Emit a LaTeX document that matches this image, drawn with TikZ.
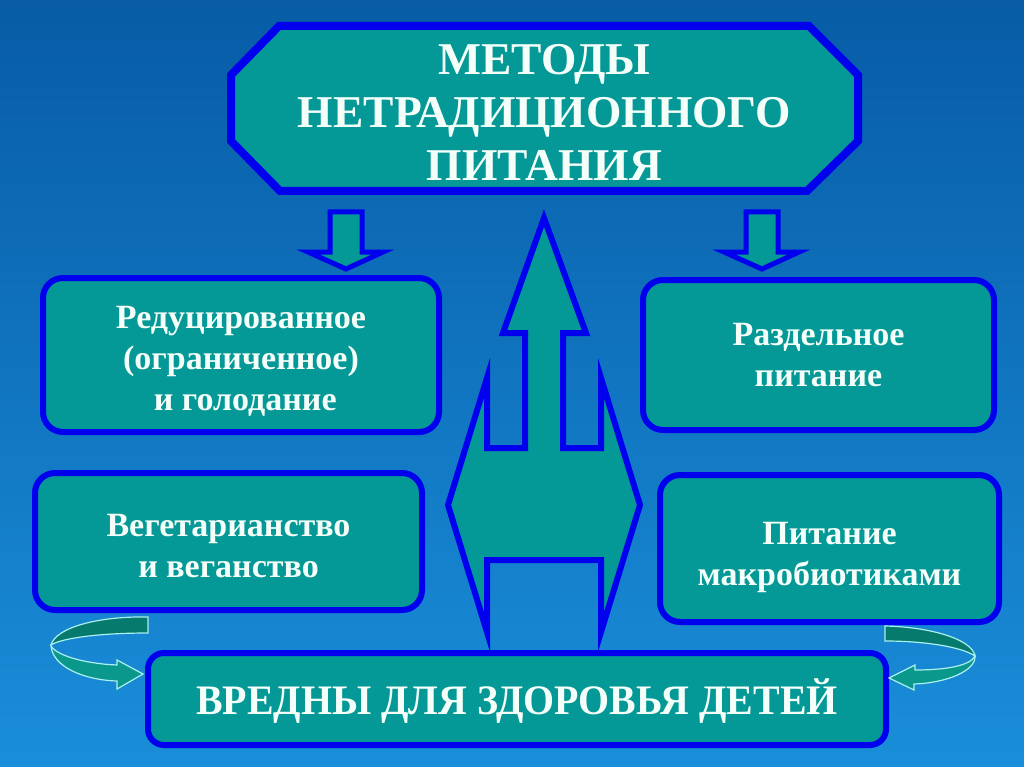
\documentclass[tikz,border=0pt]{standalone}
\usepackage{fontspec}
\setmainfont{Liberation Serif}
\newfontfamily\condserif[FakeStretch=0.95]{Liberation Serif}
\definecolor{bgtop}{RGB}{8,92,166}
\definecolor{bgbot}{RGB}{26,142,218}
\definecolor{tealfill}{RGB}{4,152,150}
\definecolor{edgeblue}{RGB}{0,0,238}
\definecolor{ribbondark}{RGB}{6,122,108}
\definecolor{ribbonlight}{RGB}{10,152,140}
\definecolor{ribbonedge}{RGB}{170,240,236}
\definecolor{txt}{RGB}{245,255,250}
\newcommand{\lowlines}[2]{\raisebox{#1}[\height][\depth]{\begin{tabular}{@{}c@{}}#2\end{tabular}}}
\tikzset{
  box/.style={draw=edgeblue, line width=6pt, fill=tealfill, rounded corners=20pt,
    text=txt, font=\bfseries\fontsize{34}{41}\selectfont, inner sep=0pt},
  blockarrow/.style={draw=edgeblue, fill=tealfill, line join=miter},
  ribbonback/.style={fill=ribbondark, draw=ribbonedge, line width=1.2pt},
  ribbonfront/.style={fill=ribbonlight, draw=ribbonedge, line width=1.2pt},
}
\begin{document}
\begin{tikzpicture}[x=1pt,y=-1pt]
\useasboundingbox (0,0) rectangle (1024,767);
\shade[top color=bgtop, bottom color=bgbot] (0,0) rectangle (1024,767);

% title octagon
\draw[blockarrow, line width=8pt] (279,26) -- (809,26) -- (858,75) -- (858,141)
  -- (807,191) -- (280,191) -- (231,141) -- (231,75) -- cycle;
\node[text=txt, align=center, font=\bfseries\fontsize{45.5}{53}\selectfont, inner sep=0pt]
  (title) at (544.5,112) {МЕТОДЫ\\НЕТРАДИЦИОННОГО\\ПИТАНИЯ};

% small down arrows
\draw[blockarrow, line width=5pt] (330,212) -- (362,212) -- (362,252) -- (383,252)
  -- (346,269) -- (308,252) -- (330,252) -- cycle;
\draw[blockarrow, line width=5pt] (746,212) -- (778,212) -- (778,252) -- (799,252)
  -- (762,269) -- (724,252) -- (746,252) -- cycle;

% central arrow
\draw[blockarrow, line width=6pt] (544,218) -- (586,333) -- (563,333) -- (563,448)
  -- (601,448) -- (601,378) -- (640,505) -- (601,632) -- (601,560) -- (487,560)
  -- (487,632) -- (448,505) -- (487,378) -- (487,448) -- (525,448) -- (525,333)
  -- (503,333) -- cycle;

% boxes
\node[box, minimum width=396pt, minimum height=154pt] (reduced) at (241,355)
  {\lowlines{-6pt}{Редуцированное\\(ограниченное)\\ \ и голодание}};
\node[box, minimum width=351pt, minimum height=150pt] (separate) at (818.5,355)
  {\lowlines{-3pt}{Раздельное\\питание}};
\node[box, minimum width=387pt, minimum height=137pt] (vegan) at (228.5,541.5)
  {\lowlines{-7pt}{Вегетарианство\\и веганство}};
\node[box, minimum width=339pt, minimum height=147pt] (macro) at (829.5,548.5)
  {\lowlines{-8pt}{Питание\\макробиотиками}};
\node[box, minimum width=738pt, minimum height=92pt, rounded corners=16pt,
  font=\condserif\bfseries\fontsize{42}{48}\selectfont] (harm) at (517,699)
  {\raisebox{-2pt}[\height][\depth]{ВРЕДНЫ ДЛЯ ЗДОРОВЬЯ ДЕТЕЙ}};

% left curved arrow
\draw[ribbonback] (148,617) .. controls (100,616) and (56,627) .. (51,645)
  .. controls (62,638) and (100,633) .. (148,633) -- cycle;
\draw[ribbonfront] (51,646) .. controls (58,657) and (90,664) .. (117,665)
  -- (117,660) -- (143,674) -- (117,689) -- (117,681)
  .. controls (84,680) and (53,667) .. (51,646) -- cycle;

% right curved arrow
\draw[ribbonback] (885,626) .. controls (930,627) and (972,639) .. (975,656)
  .. controls (962,647) and (925,641) .. (885,641) -- cycle;
\draw[ribbonfront] (975,656) .. controls (970,666) and (945,670) .. (915,670)
  -- (915,665) -- (889,678) -- (914,690) -- (914,684)
  .. controls (946,683) and (976,671) .. (975,656) -- cycle;
\end{tikzpicture}
\end{document}
